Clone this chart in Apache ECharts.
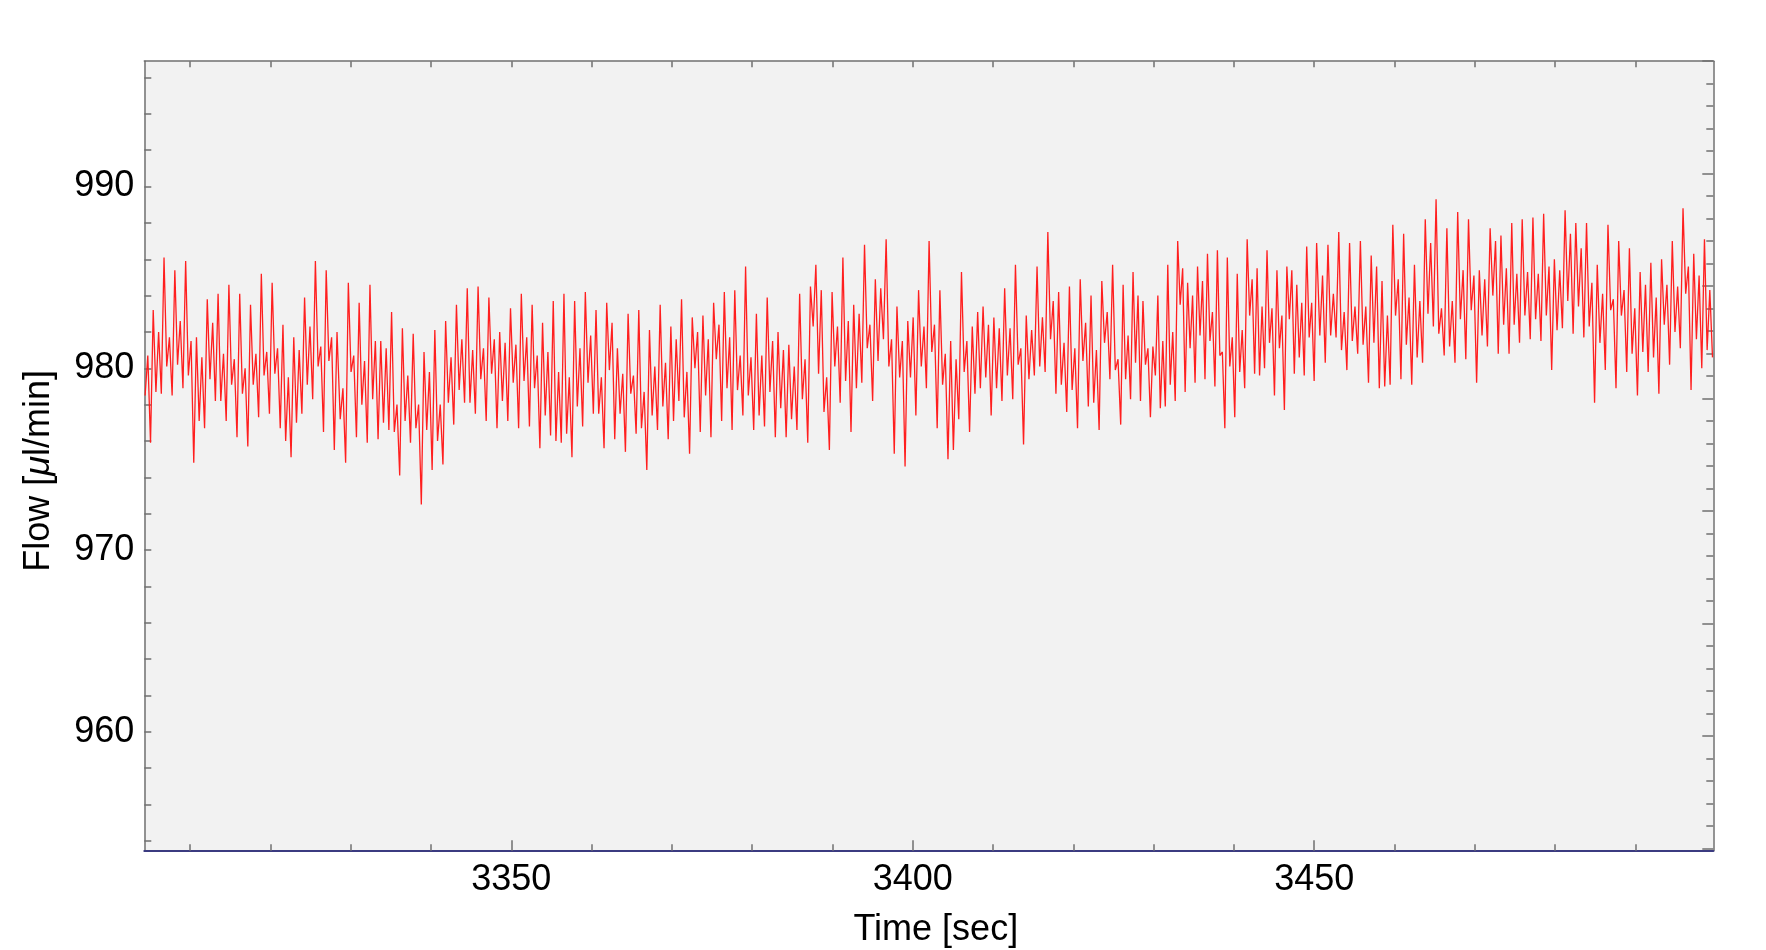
<!DOCTYPE html>
<html>
<head>
<meta charset="utf-8">
<title>Flow vs time</title>
<script src="https://cdn.jsdelivr.net/npm/echarts@6/dist/echarts.min.js"></script>
<style>
    html, body { margin: 0; padding: 0; background: #ffffff; }
    #flow-chart { width: 1766px; height: 950px; }
</style>
</head>
<body>
<div id="flow-chart"></div>
<script>

//------------ data, one array per stretch of ~25 sec ------------//

var segStart = [3304.4, 3328.7, 3352.9, 3377.5, 3401.7, 3426.2, 3450.7, 3474.9];
var segEnd   = [3328.3, 3352.6, 3377.2, 3401.4, 3425.9, 3450.3, 3474.6, 3499.6];

var flowA = [978.5, 980.7, 975.9, 983.2, 978.7, 982.0, 978.6, 986.1, 980.1, 981.7, 978.5, 985.4, 980.2, 982.6, 978.9, 985.9, 979.6, 981.5,
    974.8, 981.7, 977.1, 980.6, 976.7, 983.8, 979.4, 982.5, 978.2, 984.1, 978.2, 980.8, 977.1, 984.6, 979.1, 980.5, 976.2, 984.1,
    978.6, 980.0, 975.7, 983.5, 979.1, 980.8, 977.3, 985.2, 979.6, 980.9, 977.5, 984.7, 979.7, 981.1, 976.7, 982.4, 976.0, 979.5,
    975.1, 981.7, 977.0, 981.0, 977.5, 983.9, 979.1, 982.3, 978.3, 985.9, 980.1, 981.2, 976.5, 985.4, 980.4, 981.7, 975.5, 982.0];

var flowB = [977.2, 978.9, 974.8, 984.7, 979.8, 980.7, 976.2, 983.6, 978.0, 980.4, 975.9, 984.6, 978.3, 981.5, 976.1, 981.5, 977.0, 981.1,
    976.6, 983.1, 976.5, 978.0, 974.1, 982.2, 977.1, 979.6, 975.9, 981.9, 976.7, 978.0, 972.5, 980.9, 976.6, 979.8, 974.4, 982.1,
    976.0, 978.0, 974.7, 982.6, 978.1, 980.6, 976.9, 983.5, 978.8, 981.6, 978.1, 984.4, 978.1, 981.0, 977.5, 984.5, 979.4, 981.1,
    977.1, 983.9, 979.7, 981.6, 976.7, 982.0, 978.2, 981.4, 977.1, 983.3, 979.2, 981.3, 976.7, 984.1, 979.3, 981.7, 976.8, 983.5];

var flowC = [978.9, 980.7, 975.6, 982.5, 977.4, 980.9, 976.3, 983.7, 976.0, 979.8, 975.9, 984.1, 976.4, 979.5, 975.1, 983.7, 977.9, 981.1,
    976.8, 984.2, 979.2, 981.8, 977.5, 983.2, 977.5, 979.5, 975.6, 983.6, 979.9, 982.5, 976.1, 981.1, 977.5, 979.7, 975.4, 983.0,
    978.6, 979.6, 976.4, 983.2, 976.7, 978.7, 974.4, 982.1, 977.4, 980.1, 976.6, 983.5, 977.9, 980.3, 976.1, 982.3, 977.1, 981.6,
    978.2, 983.8, 977.3, 979.8, 975.3, 982.8, 980.0, 982.0, 976.5, 982.9, 978.5, 981.6, 976.2, 983.6, 980.5, 982.4, 977.1, 984.2,
    978.9, 981.7];

var flowD = [976.6, 984.3, 978.8, 980.7, 977.4, 985.6, 978.5, 980.6, 976.6, 983.0, 977.4, 980.7, 976.8, 983.9, 978.7, 981.5, 976.2, 982.0,
    977.8, 981.0, 976.2, 981.3, 977.2, 980.1, 976.6, 984.1, 978.3, 980.5, 975.9, 984.5, 982.3, 985.7, 979.7, 984.3, 977.6, 979.5,
    975.5, 984.2, 980.1, 982.3, 978.1, 986.1, 979.3, 982.6, 976.5, 983.5, 978.9, 983.0, 979.2, 986.8, 981.1, 982.4, 978.2, 984.9,
    980.4, 984.4, 981.6, 987.1, 980.1, 981.6, 975.3, 983.4, 979.5, 981.5, 974.6, 982.6, 979.5, 982.8, 977.4, 984.3, 980.1, 982.3];

var flowE = [978.9, 987.0, 980.9, 982.4, 976.7, 984.3, 979.1, 980.8, 975.0, 981.5, 975.5, 980.5, 977.2, 985.3, 979.8, 981.5, 976.5, 982.3,
    978.6, 983.1, 978.9, 983.4, 979.5, 982.4, 977.4, 982.8, 978.9, 982.2, 978.2, 984.4, 979.6, 982.2, 978.3, 985.7, 980.2, 981.1,
    975.8, 982.9, 979.4, 982.1, 979.6, 985.6, 980.1, 982.8, 979.8, 987.5, 981.6, 983.7, 978.6, 984.2, 979.1, 981.4, 977.6, 984.5,
    978.8, 981.1, 976.7, 984.9, 980.4, 982.5, 977.9, 984.0, 978.1, 981.0, 976.6, 984.8, 981.4, 983.1, 979.4, 985.7, 979.9, 980.5,
    976.9];

var flowF = [984.6, 979.4, 981.8, 978.3, 985.3, 980.3, 984.0, 978.2, 983.7, 980.2, 981.1, 977.3, 981.2, 979.6, 984.0, 977.8, 981.5, 977.9,
    985.7, 979.1, 982.0, 978.2, 987.0, 983.5, 985.5, 978.7, 984.7, 981.1, 984.0, 979.2, 985.6, 981.8, 984.8, 979.4, 986.3, 981.5,
    983.1, 979.0, 986.5, 980.7, 980.9, 976.7, 986.1, 980.1, 981.7, 977.3, 985.2, 979.8, 982.1, 978.9, 987.1, 982.9, 984.9, 979.7,
    985.5, 979.6, 983.4, 980.0, 986.5, 981.4, 983.3, 978.5, 985.4, 981.1, 982.9, 977.7, 985.6, 982.7, 985.4, 979.7, 984.6, 980.6,
    983.6, 979.6, 986.7, 981.7, 983.6, 979.3, 986.9];

var flowG = [981.8, 985.1, 980.3, 986.8, 981.8, 984.1, 981.7, 987.5, 981.0, 983.1, 979.9, 986.9, 981.5, 983.4, 980.8, 987.0, 981.3, 983.4,
    979.2, 986.2, 981.4, 985.6, 978.9, 984.8, 979.0, 982.9, 979.1, 987.9, 982.9, 984.9, 979.4, 987.4, 981.3, 983.9, 979.1, 985.7,
    980.6, 983.7, 980.3, 988.2, 983.0, 986.9, 982.3, 989.3, 981.9, 983.3, 980.7, 987.7, 981.2, 983.7, 980.3, 988.6, 982.7, 985.4,
    980.5, 988.2, 983.2, 985.1, 979.2, 985.4, 981.8, 984.9, 981.2, 987.7, 984.0, 987.0, 980.8, 987.3, 982.4, 985.5, 980.8, 988.0];

var flowH = [982.4, 985.2, 981.4, 988.2, 982.9, 985.3, 981.6, 988.3, 982.7, 985.2, 981.5, 988.5, 982.9, 985.6, 979.9, 986.0, 982.1, 985.4,
    982.2, 988.7, 983.7, 987.4, 981.9, 988.0, 983.4, 986.6, 981.7, 988.0, 982.3, 984.7, 978.1, 985.7, 981.4, 984.1, 979.9, 987.9,
    983.2, 983.8, 978.9, 987.0, 982.9, 984.3, 979.8, 986.6, 980.8, 983.3, 978.5, 985.3, 980.9, 984.6, 979.8, 985.8, 980.6, 983.9,
    978.6, 986.0, 982.4, 984.6, 980.2, 987.0, 982.0, 984.5, 981.1, 988.8, 984.1, 985.6, 978.8, 986.3, 981.6, 985.1, 980.0, 987.1,
    981.0, 984.3, 980.6];

// axis ranges and tick marks
var timeMin = 3304.3;
var timeMax = 3499.7;
var timeLabels = [3350, 3400, 3450];
var timeTicks = [3310, 3320, 3330, 3340, 3350, 3360, 3370, 3380, 3390, 3400, 3410, 3420, 3430, 3440, 3450, 3460, 3470, 3480, 3490];

var flowMin = 953.45;
var flowMax = 996.9;
var flowLabels = [960, 970, 980, 990];
var flowTicks = [954, 956, 958, 960, 962, 964, 966, 968, 970, 972, 974, 976, 978, 980, 982, 984, 986, 988, 990, 992, 994, 996];

// unlabelled scale on the right frame edge
var rightMax = 35.1;
var rightTicks = [];
var rightMajor = [];
for (var k = 0; k <= 35; k++) {
    rightTicks.push(k + 0.1);
    if (k % 5 === 0) rightMajor.push(k + 0.1);
}


var fontName = "'Liberation Sans', Arial, Helvetica, sans-serif";


function buildSeries() {

    var segs = [flowA, flowB, flowC, flowD, flowE, flowF, flowG, flowH];
    var out = [];

    for (var s = 0; s < segs.length; s++) {
        var vals = segs[s];
        var step = (segEnd[s] - segStart[s]) / (vals.length - 1);
        for (var i = 0; i < vals.length; i++) {
            out.push([segStart[s] + i * step, vals[i]]);
        }
    }
    return out;
}

function plainNumber(v) {
    return String(v);
}


var chart = echarts.init(document.getElementById('flow-chart'), null, { renderer: 'canvas' });

var option = {
    animation: false,
    backgroundColor: '#ffffff',
    grid: {
        left: 144.3,
        right: 52.7,
        top: 61.2,
        bottom: 99.3,
        containLabel: false,
        outerBoundsMode: 'none',
        show: true,
        backgroundColor: '#f2f2f2',
        borderWidth: 0
    },
    xAxis: [
        {
            type: 'value',
            position: 'bottom',
            min: timeMin,
            max: timeMax,
            name: 'Time [sec]',
            nameLocation: 'middle',
            nameGap: 61,
            nameTextStyle: { fontSize: 36, color: '#000', fontFamily: fontName, padding: [0, 0, 0, 14] },
            axisLine: { show: true, lineStyle: { color: '#3b3b80', width: 2 } },
            axisTick: { show: true, inside: true, length: 6.5, customValues: timeTicks, lineStyle: { color: '#707070', width: 1.5 } },
            axisLabel: { show: true, customValues: timeLabels, formatter: plainNumber, margin: 11, fontSize: 36, color: '#000', fontFamily: fontName },
            splitLine: { show: false }
        },
        {
            // longer marks at the labelled times
            type: 'value',
            position: 'bottom',
            min: timeMin,
            max: timeMax,
            axisLine: { show: false },
            axisTick: { show: true, inside: true, length: 10.5, customValues: timeLabels, lineStyle: { color: '#707070', width: 1.5 } },
            axisLabel: { show: false },
            splitLine: { show: false }
        },
        {
            type: 'value',
            position: 'top',
            min: timeMin,
            max: timeMax,
            axisLine: { show: true, lineStyle: { color: '#707070', width: 1.5 } },
            axisTick: { show: true, inside: true, length: 6, customValues: timeTicks, lineStyle: { color: '#707070', width: 1.5 } },
            axisLabel: { show: false },
            splitLine: { show: false }
        }
    ],
    yAxis: [
        {
            type: 'value',
            position: 'left',
            min: flowMin,
            max: flowMax,
            name: 'Flow [{it|\u03bc}l/min]',
            nameLocation: 'middle',
            nameRotate: 90,
            nameGap: 87,
            nameTextStyle: {
                fontSize: 36,
                color: '#000',
                fontFamily: fontName,
                padding: [0, 30, 0, 0],
                rich: {
                    it: { fontSize: 36, color: '#000', fontFamily: fontName, fontStyle: 'italic' }
                }
            },
            axisLine: { show: true, lineStyle: { color: '#707070', width: 1.5 } },
            axisTick: { show: true, inside: true, length: 7, customValues: flowTicks, lineStyle: { color: '#707070', width: 1.5 } },
            axisLabel: { show: true, customValues: flowLabels, formatter: plainNumber, margin: 10, fontSize: 36, color: '#000', fontFamily: fontName },
            splitLine: { show: false }
        },
        {
            type: 'value',
            position: 'right',
            min: 0,
            max: rightMax,
            axisLine: { show: true, lineStyle: { color: '#707070', width: 1.5 } },
            axisTick: { show: true, inside: true, length: 7, customValues: rightTicks, lineStyle: { color: '#707070', width: 1.5 } },
            axisLabel: { show: false },
            splitLine: { show: false }
        },
        {
            type: 'value',
            position: 'right',
            min: 0,
            max: rightMax,
            axisLine: { show: false },
            axisTick: { show: true, inside: true, length: 11, customValues: rightMajor, lineStyle: { color: '#707070', width: 1.5 } },
            axisLabel: { show: false },
            splitLine: { show: false }
        }
    ],
    series: [
        {
            name: 'Flow',
            type: 'line',
            xAxisIndex: 0,
            yAxisIndex: 0,
            data: buildSeries(),
            showSymbol: false,
            symbol: 'none',
            sampling: null,
            lineStyle: { color: '#ff1f1f', width: 1.3 },
            z: 3
        }
    ]
};

chart.setOption(option);

</script>
</body>
</html>
